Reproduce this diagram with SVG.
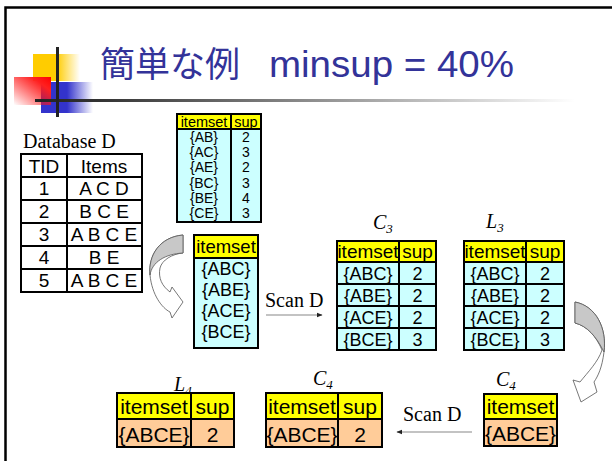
<svg xmlns="http://www.w3.org/2000/svg" width="612" height="461" viewBox="0 0 612 461">
<defs>
<linearGradient id="gY" x1="0" y1="0" x2="1" y2="0"><stop offset="0" stop-color="#FFCC00"/><stop offset="0.5" stop-color="#FFCC00"/><stop offset="1" stop-color="#FFCC00" stop-opacity="0"/></linearGradient>
<linearGradient id="gB" x1="0" y1="0" x2="1" y2="0"><stop offset="0" stop-color="#3333CC"/><stop offset="0.5" stop-color="#3333CC"/><stop offset="1" stop-color="#3333CC" stop-opacity="0"/></linearGradient>
<linearGradient id="gR" x1="1" y1="0" x2="0" y2="1"><stop offset="0" stop-color="#FF0000"/><stop offset="0.25" stop-color="#FF2020"/><stop offset="1" stop-color="#FF0000" stop-opacity="0"/></linearGradient>
<linearGradient id="gL" x1="0" y1="0" x2="1" y2="0"><stop offset="0" stop-color="#222"/><stop offset="0.12" stop-color="#333"/><stop offset="1" stop-color="#333" stop-opacity="0"/></linearGradient>
<marker id="ah" viewBox="0 0 10 10" refX="9" refY="5" markerWidth="5" markerHeight="5" orient="auto"><path d="M0,1 L10,5 L0,9 Z" fill="#222"/></marker>
</defs>
<style>
.tb{stroke:#000;stroke-width:2;fill:none}
.hd{fill:#FFFF00}
.cy{fill:#CCFFFF}
.or{fill:#FFCC99}
.s{font-family:"Liberation Sans",Arial,sans-serif;fill:#000;text-anchor:middle}
.t{font-family:"Liberation Serif","Times New Roman",serif;fill:#000}
.lb{font-family:"Liberation Serif","Times New Roman",serif;font-style:italic;font-size:20px;fill:#000}
.ar{fill:#fff;stroke:#555;stroke-width:0.8}
.ag{fill:#C8C8C8;stroke:#555;stroke-width:0.8}
</style>

<!-- slide frame -->
<path d="M5.5,461 V7.5 H612" fill="none" stroke="#000" stroke-width="2.5"/>

<!-- decoration -->
<g id="decoration">
<rect x="33" y="54" width="47" height="27" fill="url(#gY)"/>
<rect x="41" y="82" width="52" height="31" fill="url(#gB)"/>
<rect x="14" y="77" width="37" height="28" fill="url(#gR)"/>
<rect x="35" y="99" width="540" height="3" fill="url(#gL)"/>
<rect x="56" y="47" width="3" height="70" fill="#222"/>
</g>

<!-- title -->
<g id="title">
<text x="100" y="77" font-family="'Noto Sans CJK JP','Noto Sans CJK SC',sans-serif" font-size="35" fill="#333399">簡単な例</text>
<text x="269" y="77" font-family="'Liberation Sans',Arial,sans-serif" font-size="36" fill="#333399" textLength="245" lengthAdjust="spacingAndGlyphs">minsup = 40%</text>
</g>

<!-- Database D -->
<g id="database">
<text class="t" x="23" y="148" font-size="20">Database D</text>
<rect x="21" y="154" width="121" height="138" fill="#fff"/>
<path class="tb" d="M21,154 H142 V292 H21 Z M67,154 V292 M21,177 H142 M21,200 H142 M21,223 H142 M21,246 H142 M21,269 H142"/>
<g class="s" font-size="19">
<text x="44" y="173">TID</text><text x="104" y="173">Items</text>
<text x="44" y="195">1</text><text x="104" y="195">A C D</text>
<text x="44" y="218">2</text><text x="104" y="218">B C E</text>
<text x="44" y="241">3</text><text x="104" y="241">A B C E</text>
<text x="44" y="264">4</text><text x="104" y="264">B E</text>
<text x="44" y="287">5</text><text x="104" y="287">A B C E</text>
</g>
</g>

<!-- L2 table -->
<g id="L2">
<rect class="hd" x="177" y="114" width="84" height="15"/>
<rect class="cy" x="177" y="129" width="84" height="93"/>
<path class="tb" d="M177,114 H261 V222 H177 Z M231,114 V222 M177,129 H261"/>
<g class="s" font-size="14.5">
<text x="204" y="127">itemset</text><text x="246" y="127">sup</text>
</g>
<g class="s" font-size="14">
<text x="204" y="142">{AB}</text><text x="246" y="142">2</text>
<text x="204" y="157">{AC}</text><text x="246" y="157">3</text>
<text x="204" y="172">{AE}</text><text x="246" y="172">2</text>
<text x="204" y="188">{BC}</text><text x="246" y="188">3</text>
<text x="204" y="203">{BE}</text><text x="246" y="203">4</text>
<text x="204" y="218">{CE}</text><text x="246" y="218">3</text>
</g>
</g>

<!-- C3 candidates -->
<g id="C3cand">
<rect class="hd" x="194" y="235" width="64" height="23"/>
<rect class="cy" x="194" y="258" width="64" height="90"/>
<path class="tb" d="M194,235 H258 V348 H194 Z M194,258 H258"/>
<g class="s" font-size="18.5"><text x="226" y="253">itemset</text></g>
<g class="s" font-size="18">
<text x="226" y="275">{ABC}</text>
<text x="226" y="296">{ABE}</text>
<text x="226" y="317">{ACE}</text>
<text x="226" y="338">{BCE}</text>
</g>
</g>

<!-- C3 -->
<g id="C3">
<text class="lb" x="373" y="229">C<tspan font-size="13" dy="4">3</tspan></text>
<rect class="hd" x="337" y="241" width="99" height="21"/>
<rect class="cy" x="337" y="262" width="99" height="88"/>
<path class="tb" d="M337,241 H436 V350 H337 Z M399,241 V350 M337,262 H436 M337,284 H436 M337,306 H436 M337,328 H436"/>
<g class="s" font-size="19"><text x="368" y="258">itemset</text><text x="417.5" y="258">sup</text></g>
<g class="s" font-size="18">
<text x="368" y="280">{ABC}</text><text x="417.5" y="280">2</text>
<text x="368" y="302">{ABE}</text><text x="417.5" y="302">2</text>
<text x="368" y="324">{ACE}</text><text x="417.5" y="324">2</text>
<text x="368" y="346">{BCE}</text><text x="417.5" y="346">3</text>
</g>
</g>

<!-- L3 -->
<g id="L3">
<text class="lb" x="486" y="228">L<tspan font-size="13" dy="4">3</tspan></text>
<rect class="hd" x="464" y="241" width="100" height="21"/>
<rect class="cy" x="464" y="262" width="100" height="88"/>
<path class="tb" d="M464,241 H564 V350 H464 Z M526,241 V350 M464,262 H564 M464,284 H564 M464,306 H564 M464,328 H564"/>
<g class="s" font-size="19"><text x="495" y="258">itemset</text><text x="545" y="258">sup</text></g>
<g class="s" font-size="18">
<text x="495" y="280">{ABC}</text><text x="545" y="280">2</text>
<text x="495" y="302">{ABE}</text><text x="545" y="302">2</text>
<text x="495" y="324">{ACE}</text><text x="545" y="324">2</text>
<text x="495" y="346">{BCE}</text><text x="545" y="346">3</text>
</g>
</g>

<!-- L4 -->
<g id="L4">
<text class="lb" x="174" y="391">L<tspan font-size="13" dy="4">4</tspan></text>
<rect class="hd" x="117" y="393" width="117" height="26"/>
<rect class="or" x="117" y="419" width="117" height="28"/>
<path class="tb" d="M117,393 H234 V447 H117 Z M191,393 V447 M117,419 H234"/>
<g class="s" font-size="21">
<text x="154" y="414">itemset</text><text x="212.5" y="414">sup</text>
<text x="154" y="442">{ABCE}</text><text x="212.5" y="442">2</text>
</g>
</g>

<!-- C4 middle -->
<g id="C4scan">
<text class="lb" x="313" y="385">C<tspan font-size="13" dy="4">4</tspan></text>
<rect class="hd" x="266" y="393" width="116" height="26"/>
<rect class="or" x="266" y="419" width="116" height="28"/>
<path class="tb" d="M266,393 H382 V447 H266 Z M338,393 V447 M266,419 H382"/>
<g class="s" font-size="21">
<text x="302" y="414">itemset</text><text x="360" y="414">sup</text>
<text x="302" y="442">{ABCE}</text><text x="360" y="442">2</text>
</g>
</g>

<!-- C4 right -->
<g id="C4cand">
<text class="lb" x="496" y="386">C<tspan font-size="13" dy="4">4</tspan></text>
<rect class="hd" x="484" y="394" width="73" height="25"/>
<rect class="or" x="484" y="419" width="73" height="27"/>
<path class="tb" d="M484,394 H557 V446 H484 Z M484,419 H557"/>
<g class="s" font-size="21">
<text x="520.5" y="414">itemset</text>
<text x="520.5" y="441">{ABCE}</text>
</g>
</g>

<!-- connectors -->
<g id="connectors">
<path class="ar" d="M183,235 C160,237 148,255 150,275 C152,295 162,308 170,312 L172,318 L183,302 L172,287 L170,292 C162,286 158,278 160,268 C162,260 172,254 183,253 Z"/>
<path class="ag" d="M183,235 C160,237 148,255 150,275 C152,262 165,254 183,253 Z"/>
<path class="ar" d="M575,302 C596,306 607,328 604,352 C602,368 598,376 594,382 L597,392 L581,402 L573,380 L580,382 C588,372 598,362 602,350 C596,336 587,326 575,323 Z"/>
<path class="ag" d="M575,302 C596,306 607,328 604,352 C596,336 587,326 575,323 Z"/>
<text class="t" x="265" y="307" font-size="20">Scan D</text>
<line x1="266" y1="315" x2="322" y2="315" stroke="#888" stroke-width="1.2" marker-end="url(#ah)"/>
<text class="t" x="403" y="421" font-size="20">Scan D</text>
<line x1="472" y1="432" x2="397" y2="432" stroke="#888" stroke-width="1.2" marker-end="url(#ah)"/>
</g>
</svg>
